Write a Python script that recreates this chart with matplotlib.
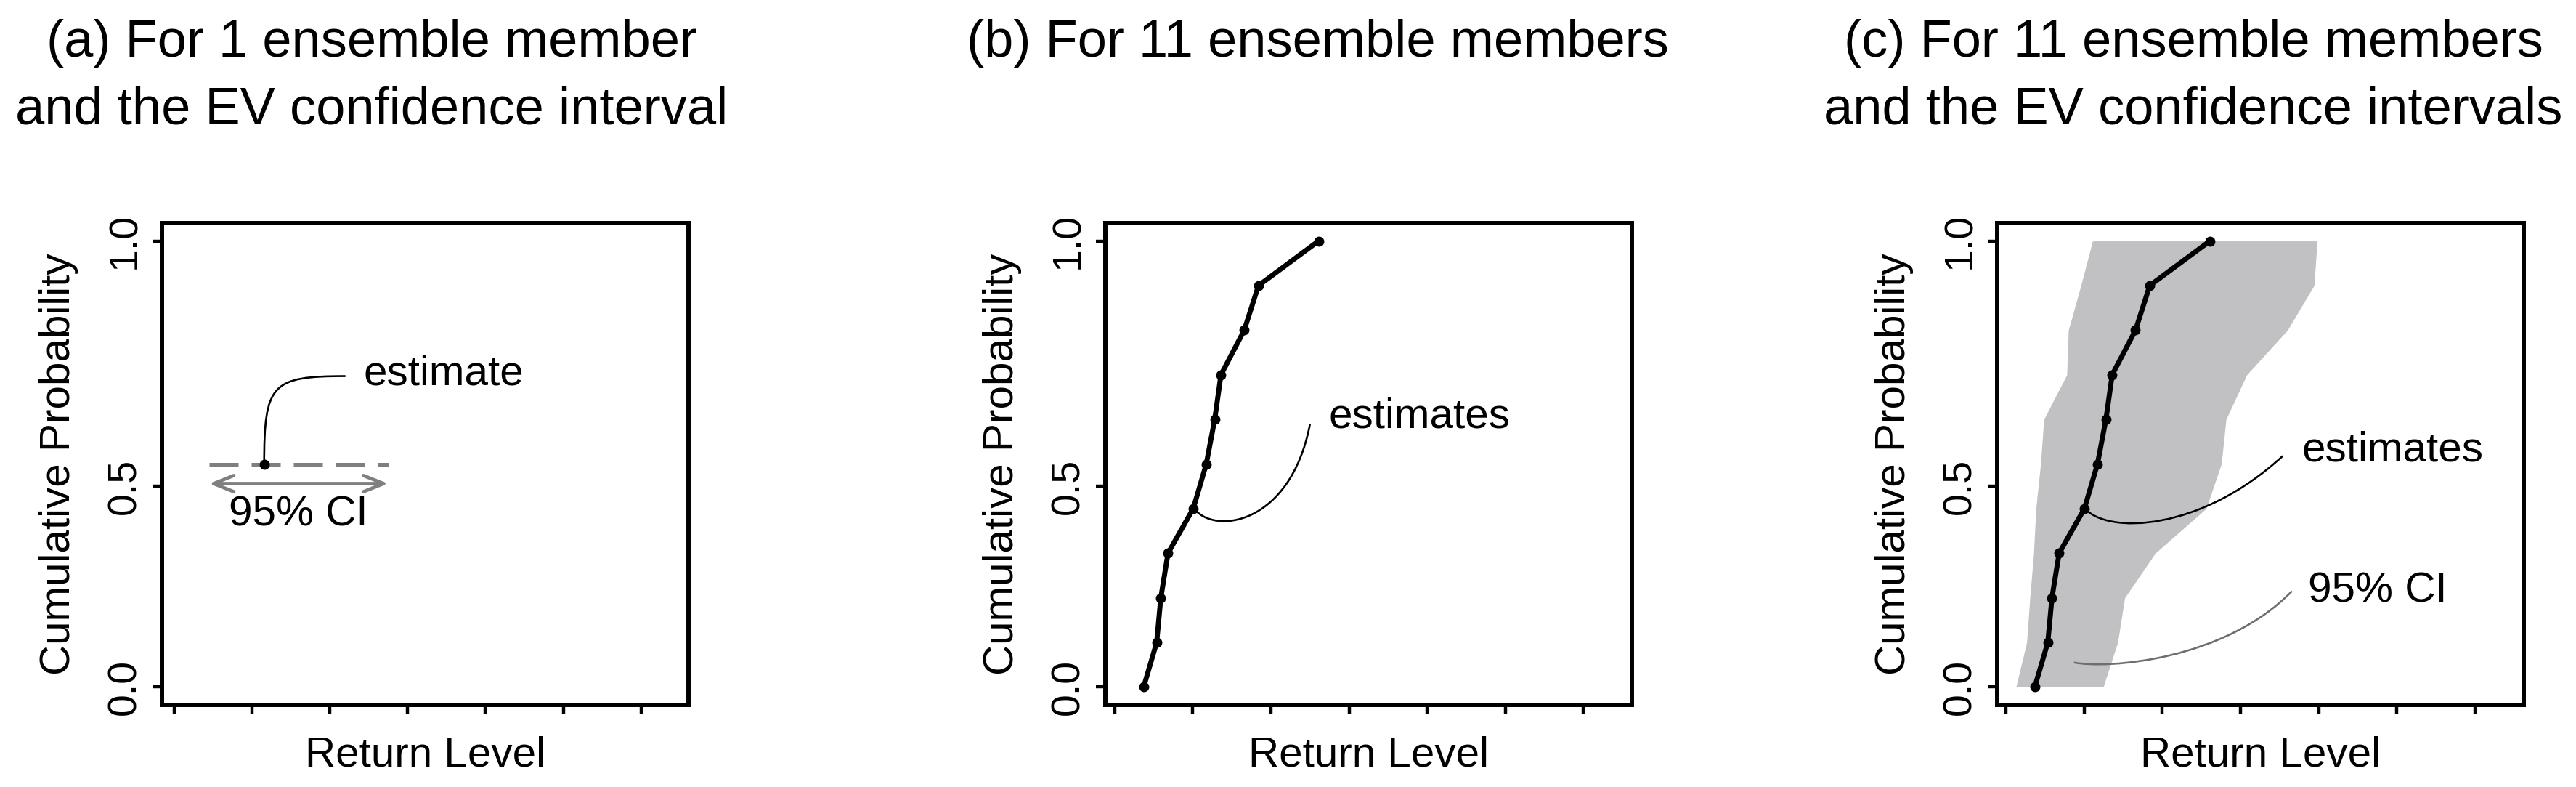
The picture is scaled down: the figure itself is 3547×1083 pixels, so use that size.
import numpy as np
import matplotlib
matplotlib.use("Agg")
import matplotlib.pyplot as plt
from matplotlib.path import Path
from matplotlib.patches import PathPatch

plt.rcParams['font.family'] = ['Liberation Sans', 'DejaVu Sans']

# ---------------- data ----------------
titles_a = ["(a) For 1 ensemble member", "and the EV confidence interval"]
titles_b = ["(b) For 11 ensemble members"]
titles_c = ["(c) For 11 ensemble members", "and the EV confidence intervals"]
x_label = "Return Level"
y_label = "Cumulative Probability"
y_tick_pos = [0.0, 0.45, 1.0]
y_tick_lab = ["0.0", "0.5", "1.0"]
x_tick_pos = [0, 1, 2, 3, 4, 5, 6]

# panel (a)
est_a_x = [1.155]
est_a_y = [0.5]
ci_a = [0.446, 2.75]          # dashed range / arrow ends
ci_a_arrow_y = 0.456
curve_a = [(1.155, 0.50), (1.155, 0.68), (1.25, 0.697), (2.20, 0.697)]

# ensemble estimates (panels b and c)
ens_x = [0.37, 0.537, 0.59, 0.682, 1.005, 1.172, 1.28, 1.36, 1.658, 1.84, 2.61]
ens_y = [0.0, 0.1, 0.2, 0.3, 0.4, 0.5, 0.6, 0.7, 0.8, 0.9, 1.0]

# confidence band (panel c)
band_y = [0.0, 0.1, 0.2, 0.3, 0.4, 0.5, 0.6, 0.7, 0.8, 0.9, 1.0]
band_lo = [0.13, 0.267, 0.308, 0.356, 0.385, 0.445, 0.486, 0.78, 0.80, 0.96, 1.109]
band_hi = [1.245, 1.43, 1.52, 1.91, 2.56, 2.755, 2.815, 3.08, 3.60, 3.94, 3.98]

curve_b = [(1.009, 0.402), (1.25, 0.34), (2.25, 0.36), (2.50, 0.59)]
curve_c_est = [(1.0, 0.402), (1.3, 0.34), (2.5, 0.35), (3.54, 0.518)]
curve_c_ci = [(0.871, 0.055), (1.3, 0.04), (2.8, 0.06), (3.657, 0.215)]

# ---------------- figure ----------------
W, H = 3548, 1083
fig = plt.figure(figsize=(W / 100, H / 100), dpi=100)

box_w = 725 / W
box_h = 663 / H
box_b = (H - 970) / H
lefts = [223 / W, 1522 / W, 2750 / W]
xlims = [(-0.159, 6.61), (-0.12, 6.62), (-0.11, 6.62)]

FS = 42
TFS = 52
GRAY = '#7f7f7f'

axes = []
for i in range(3):
    ax = fig.add_axes([lefts[i], box_b, box_w, box_h])
    ax.set_xlim(*xlims[i])
    ax.set_ylim(-0.04, 1.04)
    for s in ax.spines.values():
        s.set_linewidth(4.3)
        s.set_capstyle('projecting')
    ax.set_xticks(x_tick_pos)
    ax.set_xticklabels([])
    ax.set_yticks(y_tick_pos)
    ax.set_yticklabels(y_tick_lab, fontsize=FS - 2)
    ax.tick_params(axis='x', length=9.4, width=3.2, direction='out')
    ax.tick_params(axis='y', length=9.4, width=3.2, direction='out', pad=27)
    for lab in ax.get_yticklabels():
        lab.set_rotation(90)
        lab.set_ha('center')
        lab.set_va('center')
    ax.text(0.5, -0.128, x_label, transform=ax.transAxes, ha='center',
            va='baseline', fontsize=FS)
    ax.text(-0.196, 0.5, y_label, transform=ax.transAxes, ha='center',
            va='center', rotation=90, fontsize=FS)
    axes.append(ax)

def bezier(ax, pts, color, lw):
    codes = [Path.MOVETO, Path.CURVE4, Path.CURVE4, Path.CURVE4]
    ax.add_patch(PathPatch(Path(pts, codes), fill=False, edgecolor=color,
                           lw=lw, capstyle='butt', zorder=4))

# panel (a)
ax = axes[0]
ax.plot(ci_a, [est_a_y[0]] * 2, color=GRAY, lw=3.6, dashes=(8, 3.6))
ax.annotate('', xy=(ci_a[1], ci_a_arrow_y), xytext=(ci_a[0], ci_a_arrow_y),
            arrowprops=dict(arrowstyle='<->,head_length=1.0,head_width=0.4',
                            color=GRAY, lw=3.4, shrinkA=0, shrinkB=0,
                            mutation_scale=20))
bezier(ax, curve_a, 'black', 1.9)
ax.plot(est_a_x, est_a_y, 'o', color='black', ms=9, zorder=5)
ax.text(2.43, 0.677, "estimate", fontsize=FS, ha='left', va='baseline')
ax.text(0.70, 0.361, "95% CI", fontsize=FS, ha='left', va='baseline')

# panel (b)
ax = axes[1]
ax.plot(ens_x, ens_y, '-o', color='black', lw=5, ms=9, zorder=3)
bezier(ax, curve_b, 'black', 1.9)
ax.text(2.736, 0.581, "estimates", fontsize=FS, ha='left', va='baseline')

# panel (c)
ax = axes[2]
ax.fill_betweenx(band_y, band_lo, band_hi, color='#c1c0c2', lw=0, zorder=1)
ax.plot(ens_x, ens_y, '-o', color='black', lw=5, ms=9, zorder=3)
bezier(ax, curve_c_est, 'black', 1.9)
bezier(ax, curve_c_ci, '#6e6e6e', 1.9)
ax.text(3.788, 0.506, "estimates", fontsize=FS, ha='left', va='baseline')
ax.text(3.865, 0.19, "95% CI", fontsize=FS, ha='left', va='baseline')

# titles
def title_lines(cx, lines):
    base = [78, 170]
    for k, t in enumerate(lines):
        fig.text(cx / W, 1 - base[k] / H, t, ha='center', va='baseline',
                 fontsize=TFS)

title_lines(512, titles_a)
title_lines(1814, titles_b)
title_lines(3020, titles_c)

fig.savefig("out.png", dpi=100)
